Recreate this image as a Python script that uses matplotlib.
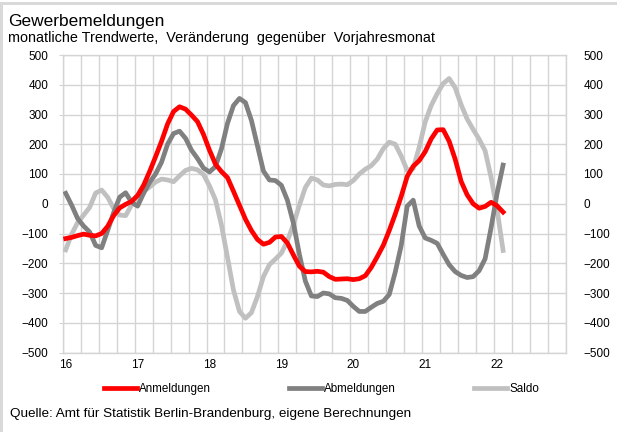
import matplotlib
matplotlib.use("Agg")
import matplotlib.pyplot as plt
from matplotlib.lines import Line2D
from matplotlib.patches import Rectangle
import numpy as np

plt.rcParams['font.family'] = ['Liberation Sans', 'DejaVu Sans']

# Category axis: monthly values from Jan 2016, one label per January
year_labels = ["16", "17", "18", "19", "20", "21", "22"]
n_months = 84

# Monthly trend values, change versus the same month of the previous year
anmeldungen = [
    -117, -113, -107, -102, -106, -108, -100, -76, -40, -14, -2, 8,
    28, 62, 108, 158, 210, 268, 310, 326, 318, 298, 276, 233,
    180, 133, 108, 88, 42, -5, -52, -90, -120, -136, -130, -112,
    -110, -132, -172, -210, -228, -229, -227, -230, -245, -254, -253, -252,
    -255, -252, -242, -214, -178, -140, -90, -35, 25, 92, 126, 145,
    175, 218, 248, 249, 210, 150, 75, 30, 0, -15, -9, 5,
    -7, -28,
]
abmeldungen = [
    35, -5, -50, -75, -95, -140, -148, -90, -30, 22, 37, 5,
    -8, 35, 72, 100, 140, 200, 236, 244, 220, 180, 152, 120,
    107, 125, 185, 270, 330, 354, 340, 280, 195, 110, 80, 78,
    62, 12, -65, -170, -260, -310, -312, -300, -303, -316, -318, -325,
    -345, -362, -362, -348, -335, -328, -305, -230, -140, -8, 12, -75,
    -115, -123, -133, -170, -205, -228, -241, -248, -245, -225, -185, -80,
    35, 130,
]
saldo = [
    -155, -102, -63, -38, -12, 36, 46, 22, -15, -38, -40, -4,
    25, 42, 56, 73, 83, 80, 74, 94, 112, 119, 114, 98,
    60, 13, -72, -180, -290, -362, -385, -366, -312, -245, -205, -186,
    -166, -125, -70, -5, 55, 86, 80, 63, 60, 65, 66, 64,
    78, 100, 116, 128, 150, 185, 207, 200, 160, 112, 118, 190,
    275, 330, 370, 404, 421, 390, 333, 285, 250, 217, 178, 88,
    -20, -157,
]
series_names = ["Anmeldungen", "Abmeldungen", "Saldo"]
series_colors = ["#FF0000", "#808080", "#C0C0C0"]

W, H = 617, 432
fig = plt.figure(figsize=(W / 100, H / 100), dpi=100)

# light frame along the top and left edge
fig.add_artist(Rectangle((0, 1 - 5 / H), 1, 3 / H, transform=fig.transFigure,
                         color="#D9D9D9", lw=0))
fig.add_artist(Rectangle((0, 0), 3 / W, 1 - 2 / H, transform=fig.transFigure,
                         color="#D9D9D9", lw=0))

left, right, top, bottom = 62.7, 566, 55, 352.5
ax = fig.add_axes([left / W, 1 - bottom / H, (right - left) / W, (bottom - top) / H])

x = np.arange(len(anmeldungen))
lw = 3.4
ax.plot(x, saldo, color=series_colors[2], lw=lw, zorder=3, solid_joinstyle="round")
ax.plot(x, abmeldungen, color=series_colors[1], lw=lw, zorder=4, solid_joinstyle="round")
ax.plot(x, anmeldungen, color=series_colors[0], lw=lw, zorder=5, solid_joinstyle="round")

grid_c = "#D4D4D4"
ax.set_xlim(-0.5, n_months - 0.5)
ax.set_ylim(-500, 500)
ax.set_yticks(range(-500, 501, 100))
ax.set_xticks(np.arange(-0.5, n_months, 3), minor=True)
ax.set_xticks(np.arange(0, len(year_labels) * 12, 12))
ax.set_xticklabels(year_labels)
ax.grid(True, which="minor", axis="x", color=grid_c, lw=1)
ax.grid(True, which="major", axis="y", color=grid_c, lw=1)
ax.grid(False, which="major", axis="x")
ax.set_axisbelow(True)
for s in ax.spines.values():
    s.set_color(grid_c)
    s.set_linewidth(1)
ax.tick_params(axis="x", which="both", length=0, pad=5, labelsize=8.5, colors="black")
ax.tick_params(axis="y", length=3, color=grid_c, pad=7.5, labelsize=8.5)

ax2 = ax.twinx()
ax2.set_ylim(-500, 500)
ax2.set_yticks(range(-500, 501, 100))
ax2.tick_params(axis="y", length=0, pad=12.5, labelsize=8.5)
for s in ax2.spines.values():
    s.set_visible(False)
for lab in ax2.get_yticklabels():
    lab.set_horizontalalignment("left")

fig.text(8 / W, 1 - 26 / H, "Gewerbemeldungen", fontsize=12.5, va="baseline", ha="left")
fig.text(8 / W, 1 - 42 / H,
         "monatliche Trendwerte,  Veränderung  gegenüber  Vorjahresmonat",
         fontsize=10.4, va="baseline", ha="left")

handles = [Line2D([], [], color=c, lw=lw) for c in series_colors]
fig.legend(handles, series_names, loc="center left",
           bbox_to_anchor=(104 / W, 1 - 389 / H), ncol=3, frameon=False,
           fontsize=8.4, handlelength=2.8, handletextpad=0.2,
           columnspacing=6.7, borderpad=0, borderaxespad=0)

fig.text(10 / W, 1 - 414 / H,
         "Quelle: Amt für Statistik Berlin-Brandenburg, eigene Berechnungen",
         fontsize=9.7, va="center", ha="left")

fig.savefig("out.png", dpi=100)
